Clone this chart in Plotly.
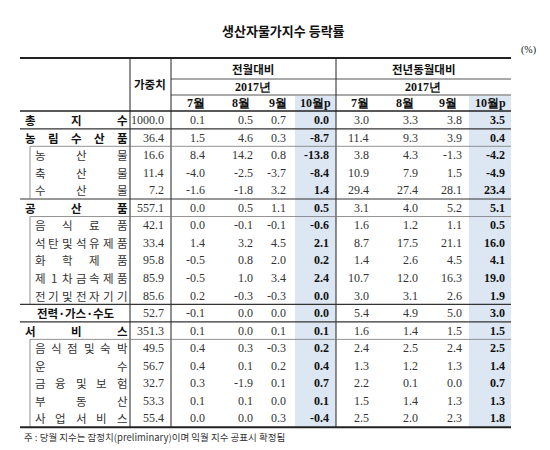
import plotly.graph_objects as go

labels = ["총지수","농림수산품","농산물","축산물","수산물","공산품","음식료품","석탄및석유제품",
          "화학제품","제1차금속제품","전기및전자기기","전력·가스·수도","서비스","음식점및숙박",
          "운수","금융및보험","부동산","사업서비스"]
level = [0,0,1,1,1,0,1,1,1,1,1,0,0,1,1,1,1,1]
weights = [1000.0,36.4,16.6,11.4,7.2,557.1,42.1,33.4,95.8,85.9,85.6,52.7,351.3,49.5,56.7,32.7,53.3,55.4]
mom_jul = [0.1,1.5,8.4,-4.0,-1.6,0.0,0.0,1.4,-0.5,-0.5,0.2,-0.1,0.1,0.4,0.4,0.3,0.1,0.0]
mom_aug = [0.5,4.6,14.2,-2.5,-1.8,0.5,-0.1,3.2,0.8,1.0,-0.3,0.0,0.0,0.3,0.1,-1.9,0.1,0.0]
mom_sep = [0.7,0.3,0.8,-3.7,3.2,1.1,-0.1,4.5,2.0,3.4,-0.3,0.0,0.1,-0.3,0.2,0.1,0.0,0.3]
mom_oct = [0.0,-8.7,-13.8,-8.4,1.4,0.5,-0.6,2.1,0.2,2.4,0.0,0.0,0.1,0.2,0.4,0.7,0.1,-0.4]
yoy_jul = [3.0,11.4,3.8,10.9,29.4,3.1,1.6,8.7,1.4,10.7,3.0,5.4,1.6,2.4,1.3,2.2,1.5,2.5]
yoy_aug = [3.3,9.3,4.3,7.9,27.4,4.0,1.2,17.5,2.6,12.0,3.1,4.9,1.4,2.5,1.2,0.1,1.4,2.0]
yoy_sep = [3.8,3.9,-1.3,1.5,28.1,5.2,1.1,21.1,4.5,16.3,2.6,5.0,1.5,2.4,1.3,0.0,1.3,2.3]
yoy_oct = [3.5,0.4,-4.2,-4.9,23.4,5.1,0.5,16.0,4.1,19.0,1.9,3.0,1.5,2.5,1.4,0.7,1.3,1.8]
months = ["7월","8월","9월","10월p"]

fig = go.Figure()
SERIF = "Liberation Serif"
KR = "Noto Sans CJK KR"
ann = []
shapes = []
def T(x, y, s, size=12, bold=False, anchor="center", font=SERIF, color="#111"):
    ann.append(dict(x=x, y=y, text=f"<b>{s}</b>" if bold else s, showarrow=False,
                    xanchor=anchor, yanchor="middle", font=dict(family=font, size=size, color=color)))
def L(x0, y0, x1, y1, w=1, c="#333"):
    shapes.append(dict(type="line", x0=x0, y0=y0, x1=x1, y1=y1, line=dict(color=c, width=w)))
def R(x0, y0, x1, y1, c):
    shapes.append(dict(type="rect", x0=x0, y0=y0, x1=x1, y1=y1, fillcolor=c, line=dict(width=0), layer="below"))

y0 = 112; dy = 17.55
rows_y = [y0 + i*dy for i in range(len(labels))]
bottom = rows_y[-1] + dy/2

R(287, 88, 328, bottom, "#dde7f3")
R(461, 88, 503, bottom, "#dde7f3")

T(275, 22, "생산자물가지수 등락률", 13, True, font=KR)
T(520, 42, "(%)", 10, anchor="center")
L(12, 50, 503, 50, 2, "#222")
T(142, 76, "가중치", 11.5, True, font=KR)
T(245, 61, "전월대비", 11.5, True, font=KR)
T(415, 61, "전년동월대비", 11.5, True, font=KR)
L(163, 71, 503, 71, 1, "#555")
T(245, 79, "2017년", 12, True)
T(415, 79, "2017년", 12, True)
L(163, 87, 503, 87, 1, "#555")
mx_l = [188, 233, 270, 307]; mx_r = [352, 397, 440, 482]
for m, a, b in zip(months, mx_l, mx_r):
    T(a, 95, m, 12, True); T(b, 95, m, 12, True)
L(12, 103, 503, 103, 1.5, "#222")
L(122, 50, 122, bottom, 1, "#222")
L(163, 50, 163, bottom, 1, "#222")
L(328, 50, 328, bottom, 1, "#222")

cols = [(199, mom_jul, False), (247, mom_aug, False), (280, mom_sep, False), (323, mom_oct, True),
        (363, yoy_jul, False), (412, yoy_aug, False), (456, yoy_sep, False), (499, yoy_oct, True)]
for i, (lab, lv, y) in enumerate(zip(labels, level, rows_y)):
    x0, x1 = (22, 114) if lv == 0 else (32, 114)
    chars = list(lab)
    if lab == "전력·가스·수도":
        T(68, y, lab, 11.5, True, font=KR)
    else:
        for k, ch in enumerate(chars):
            T(x0 + (x1 - x0) * k / (len(chars) - 1), y, ch, 11.5, lv == 0, font=KR,
              color="#111" if lv == 0 else "#333")
    T(158, y, f"{weights[i]:.1f}", 12, anchor="right", color="#333")
    for x, arr, b in cols:
        s = f"{arr[i]:.1f}"
        T(x, y, s, 12, b, anchor="right", color="#111" if b else "#333")

def sep(i, w=1, c="#555", x0=12):
    yy = rows_y[i] - dy/2
    L(x0, yy, 503, yy, w, c)
for i in [1, 5, 11, 12]:
    sep(i, 1.2, "#333")
for i in [2, 6, 13]:
    sep(i, 0.8, "#777", 22)
for a, b in [(2, 4), (6, 10), (13, 17)]:
    L(22, rows_y[a]-dy/2, 22, rows_y[b]+dy/2, 0.8, "#777")
L(12, bottom, 503, bottom, 2, "#222")
T(14, 429, "주 : 당월 지수는 잠정치(preliminary)이며 익월 지수 공표시 확정됨", 9.5, anchor="left", font=KR, color="#333")

fig.update_layout(width=550, height=450, margin=dict(l=0, r=0, t=0, b=0),
                  paper_bgcolor="white", plot_bgcolor="white",
                  xaxis=dict(range=[0, 550], visible=False, fixedrange=True),
                  yaxis=dict(range=[450, 0], visible=False, fixedrange=True),
                  annotations=ann, shapes=shapes, showlegend=False)
fig.write_html("out.html")
